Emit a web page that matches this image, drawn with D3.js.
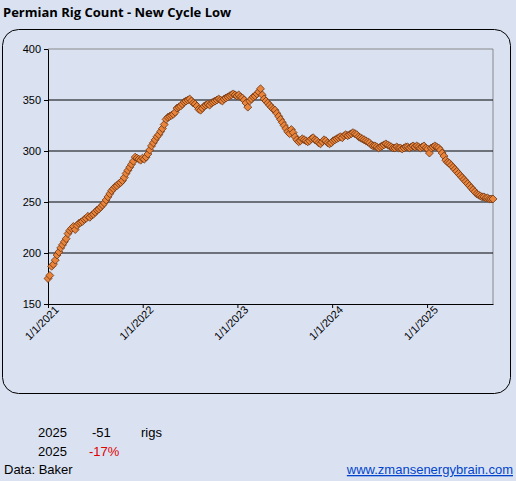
<!DOCTYPE html>
<html><head><meta charset="utf-8">
<script src="https://cdnjs.cloudflare.com/ajax/libs/d3/7.8.5/d3.min.js"></script>
<style>body{margin:0;background:#dae2f2;}svg{display:block;font-family:Arial,"Liberation Sans",sans-serif;}</style>
</head><body><div id="chart"></div>
<script>
// weekly Permian rig counts (Baker)
const rigs2021 = [175,178,187,189,193,198,201,205,208,211,214,219,222,224,226,223,227,229,230,231,233,234,236,235,237,238,240,242,243,245,247,249,252,255,258,261,263,265,266,268,269,271,274,278,281,284,287,290,294,293,292,291];
const rigs2022 = [293,292,294,297,301,305,308,311,314,316,319,322,326,331,333,334,335,336,338,342,343,344,346,348,349,350,351,349,347,346,344,341,340,342,344,345,346,345,347,348,349,350,351,350,349,351,352,353,354,355,356,355];
const rigs2023 = [354,355,353,352,350,347,343,349,351,353,354,356,358,361,355,351,349,347,345,343,341,340,337,334,331,328,325,322,319,317,321,318,314,311,309,310,312,311,310,309,310,312,313,311,310,308,307,309,311,310,308,307];
const rigs2024 = [308,310,311,312,313,314,313,315,316,315,316,317,318,317,316,314,313,312,311,310,309,308,306,305,305,304,303,304,305,306,307,306,305,304,303,303,304,303,303,302,303,304,304,303,304,305,304,305,304,303,304,305];
const rigs2025 = [303,302,298,303,304,305,304,303,301,298,295,291,289,288,286,284,282,280,278,276,274,272,270,268,266,264,262,260,258,257,256,255,255,254,254,253,253,253];
const yTicks = [150,200,250,300,350,400];
const xTickYears = [2021,2022,2023,2024,2025];
const statYear = "2025", statChange = "-51", statUnit = "rigs", statPct = "-17%";

const values = [...rigs2021, ...rigs2022, ...rigs2023, ...rigs2024, ...rigs2025];
const start = new Date(2021, 0, 1);
const data = values.map((v, i) => ({ date: d3.timeDay.offset(start, i * 7), value: v }));

const W = 516, H = 481;
const svg = d3.select("#chart").append("svg").attr("width", W).attr("height", H);
svg.append("rect").attr("width", W).attr("height", H).attr("fill", "#dae2f2");

svg.append("text").attr("x", 3).attr("y", 17).attr("font-size", 13).attr("font-weight", "bold")
    .attr("font-family", "'Open Sans',Arial,sans-serif").text("Permian Rig Count - New  Cycle Low");

svg.append("rect").attr("x", 2.5).attr("y", 29.5).attr("width", 508).attr("height", 364)
    .attr("rx", 16).attr("fill", "#dae2f2").attr("stroke", "#000").attr("stroke-width", 1);

const m = { left: 48, right: 493, top: 49, bottom: 304 };
const x = d3.scaleTime().domain([start, d3.max(data, d => d.date)]).range([m.left, m.right]);
const y = d3.scaleLinear().domain([150, 400]).range([m.bottom, m.top]);

// plot frame
svg.append("path").attr("d", `M${m.left},${m.top}H${m.right}V${m.bottom}`)
    .attr("fill", "none").attr("stroke", "#888");

svg.append("g").selectAll("line").data(yTicks.slice(1, -1)).join("line")
    .attr("x1", m.left).attr("x2", m.right).attr("y1", d => y(d)).attr("y2", d => y(d))
    .attr("stroke", "#000");

const yAxis = svg.append("g").attr("transform", `translate(${m.left},0)`)
    .call(d3.axisLeft(y).tickValues(yTicks).tickSize(4).tickSizeOuter(0));
yAxis.selectAll("text").attr("font-size", 11).attr("fill", "#000");

const xAxis = svg.append("g").attr("transform", `translate(0,${m.bottom})`)
    .call(d3.axisBottom(x).tickValues(xTickYears.map(yr => new Date(yr, 0, 1)))
        .tickFormat(d3.timeFormat("1/1/%Y")).tickSize(4).tickSizeOuter(0));
xAxis.selectAll("text").attr("font-size", 11).attr("fill", "#000")
    .attr("text-anchor", "end").attr("dx", "0.3em").attr("dy", "0.5em")
    .attr("transform", "rotate(-45)");
svg.selectAll(".domain").attr("stroke", "#000");

const diamond = d3.symbol().type(d3.symbolDiamond2).size(40);
svg.append("g").selectAll("path").data(data).join("path")
    .attr("d", diamond)
    .attr("transform", d => `translate(${x(d.date)},${y(d.value)})`)
    .attr("fill", "#e8843c").attr("stroke", "#6b3412").attr("stroke-width", 0.8);

const bt = svg.append("g").attr("font-size", 13);
bt.append("text").attr("x", 38).attr("y", 437).text(statYear);
bt.append("text").attr("x", 92).attr("y", 437).text(statChange);
bt.append("text").attr("x", 141).attr("y", 437).text(statUnit);
bt.append("text").attr("x", 38).attr("y", 456).text(statYear);
bt.append("text").attr("x", 89).attr("y", 456).attr("fill", "#e00000").text(statPct);
bt.append("text").attr("x", 4).attr("y", 474).text("Data: Baker");
bt.append("text").attr("x", 513).attr("y", 474).attr("text-anchor", "end").attr("fill", "#0044cc")
    .attr("text-decoration", "underline").text("www.zmansenergybrain.com");
</script></body></html>
